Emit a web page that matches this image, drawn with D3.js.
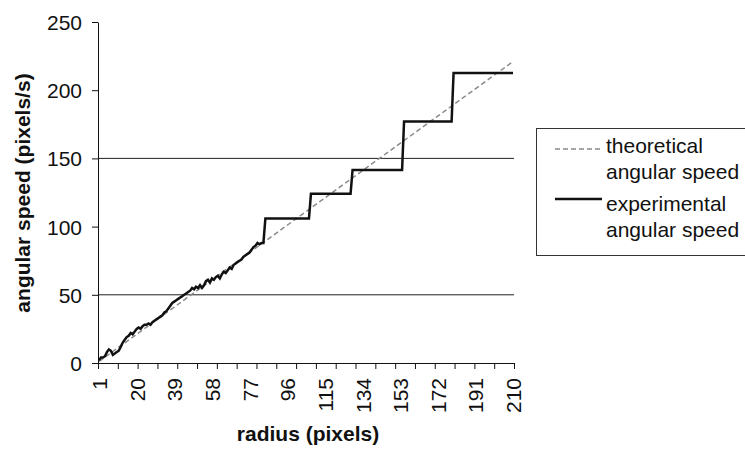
<!DOCTYPE html>
<html>
<head>
<meta charset="utf-8">
<script src="https://cdn.jsdelivr.net/npm/d3@7"></script>
<style>
  body { margin: 0; background: #fff; }
  text { font-family: "Liberation Sans", Arial, sans-serif; fill: #111; }
</style>
</head>
<body>
<script>
// x tick labels (radius, pixels)
const radiusLabels = [1, 20, 39, 58, 77, 96, 115, 134, 153, 172, 191, 210];
// y ticks
const speedTicks = [0, 50, 100, 150, 200, 250];
// gridlines that show in the picture
const gridValues = [50, 150];

// theoretical angular speed, read at the labelled radii
const theoRadius = [1, 20, 39, 58, 77, 96, 115, 134, 153, 172, 191, 210];
const theoSpeed = [1.1, 21, 41, 61, 81, 101, 121, 141, 161, 181, 201, 221];

// experimental angular speed, radius 1..84 (noisy part)
const expNoisy = [2, 4, 4, 5, 8, 10, 9, 6, 7, 8,
  9, 12, 15, 17, 19, 20, 22, 21, 23, 25,
  26, 25, 27, 28, 28, 29, 28, 30, 31, 32,
  33, 34, 35, 37, 38, 40, 42, 44, 45, 46,
  47, 48, 49, 50, 51, 52, 53, 55, 54, 56,
  55, 57, 55, 57, 60, 61, 59, 62, 61, 63,
  64, 62, 65, 67, 66, 68, 70, 69, 72, 73,
  74, 75, 76, 78, 79, 80, 81, 83, 85, 86,
  88, 87, 88, 88];
// experimental angular speed, stepped part (first radius of each step, level)
const stepStart = [85, 108, 129, 155, 180];
const stepLevel = [106, 124, 141.5, 177, 212.6];
const lastRadius = 210;

// build the experimental series
const expData = expNoisy.map((v, i) => ({ r: i + 1, v: v }));
stepStart.forEach((s, k) => {
  const end = k < stepStart.length - 1 ? stepStart[k + 1] - 1 : lastRadius;
  for (let r = s; r <= end; r++) expData.push({ r: r, v: stepLevel[k] });
});
const theoData = theoRadius.map((r, i) => ({ r: r, v: theoSpeed[i] }));

const width = 745, height = 450;
const svg = d3.select("body").append("svg")
  .attr("width", width)
  .attr("height", height);

// scales (categories sit between tick marks)
const x = d3.scaleLinear().domain([0.5, 210.5]).range([98, 514]);
const y = d3.scaleLinear().domain([0, 250]).range([363, 22]);

// gridlines
svg.selectAll(".grid")
  .data(gridValues)
  .enter().append("line")
  .attr("class", "grid")
  .attr("x1", x(0.5)).attr("x2", x(210.5))
  .attr("y1", d => y(d)).attr("y2", d => y(d))
  .attr("stroke", "#222").attr("stroke-width", 1);

// y axis
const yAxis = svg.append("g")
  .attr("transform", "translate(" + x(0.5) + ",0)")
  .call(d3.axisLeft(y).tickValues(speedTicks).tickSize(6).tickPadding(10).tickSizeOuter(0));
yAxis.selectAll("text").style("font-size", "21px").attr("dy", "0.36em");

// x axis tick marks every 10 categories
const xAxis = svg.append("g")
  .attr("transform", "translate(0," + y(0) + ")")
  .call(d3.axisBottom(x).tickValues(d3.range(0.5, 211, 10)).tickSize(6).tickFormat("").tickSizeOuter(0));

// x tick labels, rotated
const xLabels = svg.append("g")
  .attr("transform", "translate(0," + y(0) + ")")
  .call(d3.axisBottom(x).tickValues(radiusLabels).tickSize(0).tickFormat(d3.format("d")));
xLabels.select(".domain").remove();
xLabels.selectAll("text")
  .style("font-size", "21px")
  .attr("text-anchor", "end")
  .attr("transform", "rotate(-90)")
  .attr("x", -15)
  .attr("y", 0)
  .attr("dy", "0.36em");

svg.selectAll(".domain, .tick line").attr("stroke", "#111");

// lines
const line = d3.line().x(d => x(d.r)).y(d => y(d.v));

svg.append("path")
  .datum(theoData)
  .attr("d", line)
  .attr("fill", "none")
  .attr("stroke", "#8a8a8a")
  .attr("stroke-width", 1.5)
  .attr("stroke-dasharray", "5,3");

svg.append("path")
  .datum(expData)
  .attr("d", line)
  .attr("fill", "none")
  .attr("stroke", "#111")
  .attr("stroke-width", 2.5)
  .attr("stroke-linejoin", "miter");

// axis titles
svg.append("text")
  .attr("transform", "translate(30,193) rotate(-90)")
  .attr("text-anchor", "middle")
  .style("font-size", "21px")
  .style("font-weight", "bold")
  .text("angular speed (pixels/s)");

svg.append("text")
  .attr("x", 308).attr("y", 441)
  .attr("text-anchor", "middle")
  .style("font-size", "21px")
  .style("font-weight", "bold")
  .text("radius (pixels)");

// legend
const legend = svg.append("g");
legend.append("rect")
  .attr("x", 536.5).attr("y", 128.5)
  .attr("width", 220).attr("height", 127)
  .attr("fill", "none").attr("stroke", "#333").attr("stroke-width", 1);

const legendItems = [
  { lines: ["theoretical", "angular speed"], color: "#8a8a8a", w: 1.5, dash: "5,3", ly: 149, ty: 153 },
  { lines: ["experimental", "angular speed"], color: "#111", w: 2.5, dash: null, ly: 199, ty: 211 }
];
legendItems.forEach(it => {
  legend.append("line")
    .attr("x1", 555).attr("x2", 602)
    .attr("y1", it.ly).attr("y2", it.ly)
    .attr("stroke", it.color).attr("stroke-width", it.w)
    .attr("stroke-dasharray", it.dash);
  it.lines.forEach((t, i) => {
    legend.append("text")
      .attr("x", 606).attr("y", it.ty + i * 26)
      .style("font-size", "21px")
      .text(t);
  });
});
</script>
</body>
</html>
